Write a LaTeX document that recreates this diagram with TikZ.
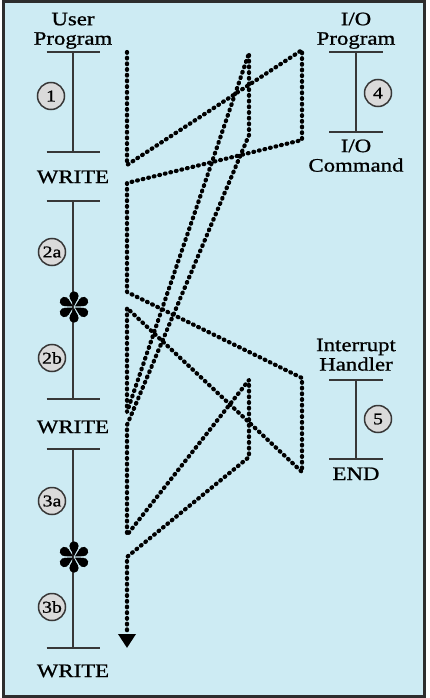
\documentclass[tikz,border=0pt]{standalone}
\usepackage{fontspec}
\setmainfont[FakeStretch=1.2,FakeBold=1]{Liberation Serif}
\usetikzlibrary{arrows.meta}
\definecolor{bgblue}{RGB}{205,235,243}
\definecolor{framegray}{RGB}{45,45,45}
\definecolor{linegray}{RGB}{55,55,55}
\definecolor{circfill}{RGB}{218,218,218}
\begin{document}
\begin{tikzpicture}[x=1pt,y=-1pt,
  lbl/.style={font=\fontsize{19}{19.5}\selectfont, inner sep=0pt, align=center, text=black},
  stepnum/.style={circle, draw=linegray, fill=circfill, line width=1.5pt, minimum size=27pt, inner sep=0pt, font=\fontsize{16.5}{16.5}\selectfont},
  bar/.style={line width=1.8pt, draw=linegray},
  flow/.style={line width=4.2pt, dash pattern=on 0.8pt off 4.9pt, line cap=round, line join=round},
  aster/.pic={
    \foreach \a in {90,30,-30,-90,-150,150} {
      \begin{scope}[rotate=\a]
        \fill (11,0) circle (4.7);
        \fill (1,0) -- (8.9,4.15) -- (8.9,-4.15) -- cycle;
      \end{scope}
    }
  }
]
\useasboundingbox (0,0) rectangle (429,698);
\draw[fill=bgblue, draw=framegray, line width=3pt] (3,1.5) rectangle (424,696);

% ---- user program column ----
\coordinate (ua) at (73,52);
\coordinate (ub) at (73,152);
\coordinate (uc) at (73,201);
\coordinate (ud) at (73,399);
\coordinate (ue) at (73,449);
\coordinate (uf) at (73,648);
\draw[bar] (ua) -- (ub);
\draw[bar] (uc) -- (ud);
\draw[bar] (ue) -- (uf);
\foreach \t in {ua,ub,uc,ud,ue,uf} {
  \draw[bar] ([xshift=-26.5pt]\t) -- ([xshift=26.5pt]\t);
}
\node[lbl, anchor=south] (uptitle) at (73,49) {User\\Program};
\node[lbl, anchor=base] (w1) at (73,183) {WRITE};
\node[lbl, anchor=base] (w2) at (73,433) {WRITE};
\node[lbl, anchor=base] (w3) at (73,677) {WRITE};
\node[stepnum] (c1) at (51,96) {1};
\node[stepnum] (c2a) at (52,252) {2a};
\node[stepnum] (c2b) at (52,358) {2b};
\node[stepnum] (c3a) at (52,501) {3a};
\node[stepnum] (c3b) at (52,607) {3b};
\pic at (74,307) {aster};
\pic at (74,557) {aster};

% ---- I/O program ----
\coordinate (ia) at (356,52);
\coordinate (ib) at (356,132);
\draw[bar] (ia) -- (ib);
\draw[bar] ([xshift=-27pt]ia) -- ([xshift=27pt]ia);
\draw[bar] ([xshift=-27pt]ib) -- ([xshift=27pt]ib);
\node[lbl, anchor=south] (iotitle) at (356,49) {I/O\\Program};
\node[lbl, anchor=south] (iocmd) at (356,172) {I/O\\Command};
\node[stepnum] (c4) at (378,93) {4};

% ---- interrupt handler ----
\coordinate (ha) at (356,380);
\coordinate (hb) at (356,459);
\draw[bar] (ha) -- (hb);
\draw[bar] ([xshift=-27pt]ha) -- ([xshift=27pt]ha);
\draw[bar] ([xshift=-27pt]hb) -- ([xshift=27pt]hb);
\node[lbl, anchor=south] (ihtitle) at (356,371) {Interrupt\\Handler};
\node[lbl, anchor=base] (iend) at (356,480) {END};
\node[stepnum] (c5) at (378,419) {5};

% ---- flow of control ----
\coordinate (p1) at (127,52);
\coordinate (p2) at (127,165);
\coordinate (p3) at (302,50);
\coordinate (p4) at (302,140);
\coordinate (p5) at (127,183);
\coordinate (p6) at (127,292);
\coordinate (p7) at (302,378);
\coordinate (p8) at (302,472);
\coordinate (p9) at (127,308);
\coordinate (p10) at (127,412);
\coordinate (p11) at (249,53);
\coordinate (p12) at (249,135);
\coordinate (p13) at (127,425);
\coordinate (p14) at (127,535);
\coordinate (p15) at (249,380);
\coordinate (p16) at (249,457);
\coordinate (p17) at (127,557);
\coordinate (p18) at (127,648);
\draw[flow, -{Triangle[width=17pt,length=14pt]}]
  (p1) -- (p2) -- (p3) -- (p4) -- (p5) -- (p6) -- (p7) -- (p8) -- (p9)
  -- (p10) -- (p11) -- (p12) -- (p13) -- (p14) -- (p15) -- (p16) -- (p17) -- (p18);
\end{tikzpicture}
\end{document}
